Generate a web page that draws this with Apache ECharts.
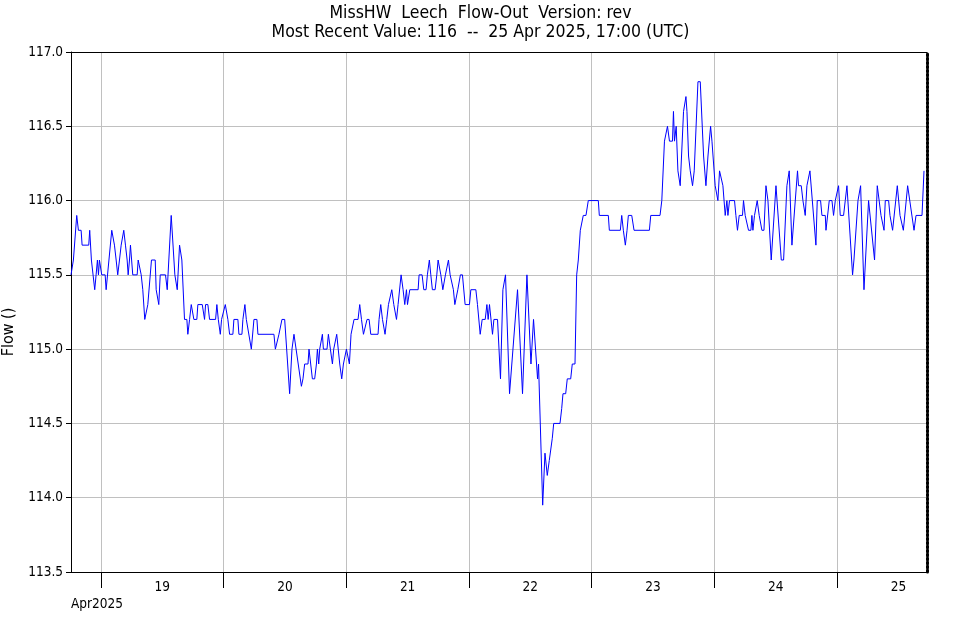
<!DOCTYPE html>
<html>
<head>
<meta charset="utf-8">
<script src="https://cdn.jsdelivr.net/npm/echarts@6/dist/echarts.min.js"></script>
<style>
html,body{margin:0;padding:0;background:#ffffff;}
#chart{width:961px;height:620px;}
</style>
</head>
<body>
<div id="chart"></div>
<script>
// ---------------- data ----------------
const titleLines = [
  'MissHW  Leech  Flow-Out  Version: rev',
  'Most Recent Value: 116  --  25 Apr 2025, 17:00 (UTC)'
];
const yAxisName = 'Flow ()';
const monthLabel = 'Apr2025';

// time base of the series (UTC) and end of the time axis
const seriesStartUTC = Date.UTC(2025, 3, 18, 18, 10);
const axisEndUTC = Date.UTC(2025, 3, 25, 17, 35);

// day boundaries (ticks / grid lines) and day labels (mid-day)
const tickDays = [19, 20, 21, 22, 23, 24, 25];

// y axis
const yMin = 113.5, yMax = 117.0, yStep = 0.5;

// readings: hours after seriesStartUTC, flow value
const hoursFromStart = [
0,0.47,0.72,1.12,1.45,1.98,2.17,3.47,3.66,3.99,4.64,4.91,5.17,5.37,5.56,5.76,6.01,6.68,6.87,7.26,
7.97,8.30,8.50,8.83,9.14,9.48,9.81,10.12,10.32,10.65,10.98,11.18,11.44,11.63,12.08,12.94,13.14,13.39,13.73,14.04,
14.43,14.82,15.02,15.35,15.74,16.47,16.66,17.17,17.45,18.48,18.82,19.60,19.99,20.31,20.78,21.23,21.68,21.87,22.20,22.66,
22.85,23.19,23.52,23.91,24.03,24.61,24.81,25.67,26.12,26.32,26.77,27.10,28.28,28.53,28.81,29.20,29.45,29.84,30.18,30.37,
30.68,31.02,31.66,31.86,32.64,32.84,33.43,33.62,34.01,34.29,35.27,35.78,36.36,36.56,39.69,39.97,40.36,40.67,41.00,41.26,
41.79,42.76,43.22,43.61,45.06,45.37,45.70,46.35,46.55,47.21,47.66,48.00,48.19,48.45,48.64,48.97,49.17,49.36,50.07,50.34,
50.73,51.13,51.38,51.71,51.97,52.56,52.95,53.28,53.53,53.87,54.18,54.45,54.77,55.16,55.36,56.14,56.47,56.81,57.20,57.51,
57.90,58.30,58.63,60.05,60.25,60.58,60.92,61.42,61.76,62.09,62.40,62.74,63.13,63.39,63.66,63.97,64.17,64.56,64.95,65.28,
65.61,65.81,66.12,66.26,67.89,68.08,68.67,69.00,69.44,69.70,70.09,70.37,70.68,71.21,71.54,71.80,72.05,72.33,72.52,72.72,
73.23,73.50,73.82,74.15,74.48,74.79,75.07,75.46,75.65,75.97,76.16,76.56,77.08,77.93,78.20,79.18,79.50,80.03,80.42,81.01,
81.34,81.59,81.85,82.18,82.44,82.71,83.42,84.00,84.47,84.98,85.77,87.33,88.31,89.17,89.96,90.46,91.25,91.44,91.72,92.25,
92.70,93.15,93.54,93.88,94.13,94.41,95.64,95.97,96.22,96.75,97.06,97.73,98.04,98.57,98.90,99.22,99.61,99.88,100.19,100.72,
101.17,103.13,103.33,105.09,105.29,107.44,107.71,108.03,108.42,108.75,109.01,109.67,110.12,113.12,113.39,115.20,115.55,116.07,116.66,117.05,
117.64,117.83,118.03,118.36,118.70,119.15,119.80,120.27,120.47,120.78,121.11,121.31,121.56,121.89,122.62,123.07,123.72,124.18,124.58,125.09,
125.36,125.75,125.99,126.33,126.52,126.84,127.17,127.50,127.95,128.28,128.48,128.79,129.77,130.04,130.35,130.69,131.33,131.53,131.86,132.25,
132.51,132.98,133.17,133.37,133.68,133.96,134.21,134.60,134.86,135.13,135.53,135.92,136.31,136.95,137.88,138.27,138.92,139.37,140.02,140.22,
140.47,141.00,141.39,142.09,142.29,142.82,143.15,143.35,143.60,143.93,144.52,145.69,145.95,146.60,146.87,147.52,147.66,148.30,148.83,149.14,
149.48,149.87,150.12,150.45,151.10,151.43,151.76,152.86,153.13,153.39,153.92,154.43,155.09,155.99,156.32,157.16,157.69,158.42,158.61,159.01,
159.26,159.91,160.18,160.57,160.69,160.97,161.61,162.14,162.79,163.63,164.02,164.88,165.27,166.44,166.83
];
const flowValues = [
115.5,115.6,115.6,115.9,115.8,115.8,115.7,115.7,115.8,115.6,115.4,115.5,115.6,115.5,115.6,115.6,115.5,115.5,115.4,115.4,
115.8,115.8,115.7,115.6,115.5,115.6,115.7,115.7,115.8,115.7,115.6,115.5,115.6,115.7,115.5,115.5,115.6,115.6,115.5,115.4,
115.2,115.2,115.3,115.3,115.6,115.6,115.4,115.3,115.5,115.5,115.4,115.9,115.9,115.5,115.4,115.7,115.6,115.6,115.2,115.2,
115.1,115.2,115.3,115.3,115.2,115.2,115.3,115.3,115.2,115.3,115.3,115.2,115.2,115.3,115.2,115.1,115.2,115.2,115.3,115.3,
115.2,115.1,115.1,115.2,115.2,115.1,115.1,115.2,115.3,115.2,115.0,115.2,115.2,115.1,115.1,115.0,115.0,115.1,115.1,115.2,
115.2,114.7,115.0,115.1,114.75,114.8,114.9,114.9,115.0,114.8,114.8,114.9,115.0,114.9,115.0,115.0,115.1,115.0,115.0,115.1,
115.0,114.9,115.0,115.0,115.1,114.9,114.8,114.9,114.9,115.0,115.0,114.9,115.1,115.1,115.2,115.2,115.3,115.2,115.1,115.1,
115.2,115.2,115.1,115.1,115.2,115.3,115.2,115.1,115.2,115.3,115.3,115.4,115.3,115.3,115.2,115.3,115.3,115.5,115.4,115.3,
115.4,115.3,115.3,115.4,115.4,115.5,115.5,115.4,115.4,115.5,115.6,115.5,115.4,115.4,115.5,115.6,115.6,115.5,115.5,115.4,
115.5,115.5,115.6,115.5,115.5,115.4,115.3,115.3,115.4,115.4,115.5,115.5,115.3,115.3,115.4,115.4,115.3,115.1,115.2,115.2,
115.3,115.2,115.3,115.3,115.1,115.2,115.2,114.8,115.4,115.5,114.7,115.4,114.7,115.5,114.9,115.2,114.8,114.9,114.9,113.95,
114.3,114.15,114.25,114.25,114.4,114.5,114.5,114.6,114.7,114.7,114.8,114.8,114.9,114.9,115.5,115.6,115.8,115.8,115.9,115.9,
116.0,116.0,115.9,115.9,115.8,115.8,115.9,115.8,115.7,115.8,115.9,115.9,115.8,115.8,115.9,115.9,116.0,116.4,116.5,116.4,
116.4,116.6,116.4,116.5,116.2,116.1,116.6,116.7,116.6,116.3,116.2,116.2,116.1,116.2,116.8,116.8,116.3,116.1,116.3,116.5,
116.4,116.4,116.1,116.1,116.0,116.2,116.2,116.1,115.9,116.0,115.9,116.0,116.0,115.9,115.8,115.9,115.9,116.0,115.9,115.9,
115.8,115.8,115.9,115.8,115.9,115.9,116.0,115.9,115.9,115.8,115.8,116.1,116.0,115.6,116.1,116.1,115.6,115.6,116.1,116.1,
116.2,115.7,115.7,116.2,116.1,116.1,116.0,116.0,115.9,116.1,116.2,115.7,116.0,116.0,115.9,115.9,115.8,116.0,116.0,115.9,
116.0,116.0,116.1,115.9,115.9,116.0,116.1,115.5,115.6,115.6,116.0,116.1,115.4,116.0,116.0,115.6,116.1,115.9,115.9,115.8,
116.0,116.0,115.9,115.9,115.8,115.8,116.1,115.9,115.8,116.1,116.1,115.8,115.9,115.9,116.2
];

// ---------------- build ----------------
const HOUR = 3600000;
const seriesData = hoursFromStart.map((h, i) => [seriesStartUTC + h * HOUR, flowValues[i]]);
const tickTimes = tickDays.map(d => Date.UTC(2025, 3, d, 0, 0));
const labelTimes = tickDays.map(d => Date.UTC(2025, 3, d, 12, 0));

const FONT = '"DejaVu Sans Condensed", "DejaVu Sans", sans-serif';
const LABEL_SIZE = 13.5;
const chart = echarts.init(document.getElementById('chart'), null, {renderer: 'canvas'});
chart.setOption({
  animation: false,
  backgroundColor: '#ffffff',
  textStyle: {fontFamily: FONT},
  title: [
    {
      text: titleLines.join('\n'),
      left: 'center',
      top: 4,
      padding: 0,
      textStyle: {fontFamily: FONT, fontSize: 17.5, fontWeight: 'normal', color: '#000', lineHeight: 19}
    },
    {
      text: monthLabel,
      left: 71,
      top: 597,
      padding: 0,
      textStyle: {fontFamily: FONT, fontSize: LABEL_SIZE, fontWeight: 'normal', color: '#000'}
    }
  ],
  grid: {left: 71, right: 34, top: 52, bottom: 48, containLabel: false, outerBoundsMode: 'none'},
  xAxis: [
    {
      type: 'value',
      min: seriesStartUTC,
      max: axisEndUTC,
      position: 'bottom',
      axisLine: {show: true, lineStyle: {color: '#000', width: 1}},
      axisTick: {show: true, length: 16, customValues: tickTimes, lineStyle: {color: '#000', width: 1}},
      axisLabel: {
        show: true,
        customValues: labelTimes,
        formatter: v => String(new Date(v).getUTCDate()),
        margin: 8,
        fontFamily: FONT,
        fontSize: LABEL_SIZE,
        color: '#000'
      },
      splitLine: {show: true, lineStyle: {color: '#c0c0c0', width: 1}}
    },
    {
      type: 'value',
      min: seriesStartUTC,
      max: axisEndUTC,
      position: 'top',
      axisLine: {show: true, lineStyle: {color: '#000', width: 1}},
      axisTick: {show: false},
      axisLabel: {show: false},
      splitLine: {show: false}
    }
  ],
  yAxis: [
    {
      type: 'value',
      min: yMin,
      max: yMax,
      interval: yStep,
      position: 'left',
      name: yAxisName,
      nameLocation: 'middle',
      nameGap: 54,
      nameTextStyle: {fontFamily: FONT, fontSize: 16, color: '#000', padding: [0, 40, 0, 0]},
      axisLine: {show: true, lineStyle: {color: '#000', width: 1}},
      axisTick: {show: true, length: 5, lineStyle: {color: '#000', width: 1}},
      axisLabel: {formatter: v => v.toFixed(1), margin: 8, fontFamily: FONT, fontSize: LABEL_SIZE, color: '#000'},
      splitLine: {show: true, lineStyle: {color: '#c0c0c0', width: 1}}
    },
    {
      type: 'value',
      min: 0,
      max: 1,
      position: 'right',
      axisLine: {show: true, lineStyle: {color: '#000', width: 3, type: [2, 2]}},
      axisTick: {show: false},
      axisLabel: {show: false},
      splitLine: {show: false}
    }
  ],
  series: [
    {
      type: 'line',
      xAxisIndex: 0,
      yAxisIndex: 0,
      data: seriesData,
      showSymbol: false,
      symbol: 'none',
      smooth: false,
      lineStyle: {color: '#0000ff', width: 1},
      itemStyle: {color: '#0000ff'},
      emphasis: {disabled: true},
      silent: true
    }
  ]
});
</script>
</body>
</html>
